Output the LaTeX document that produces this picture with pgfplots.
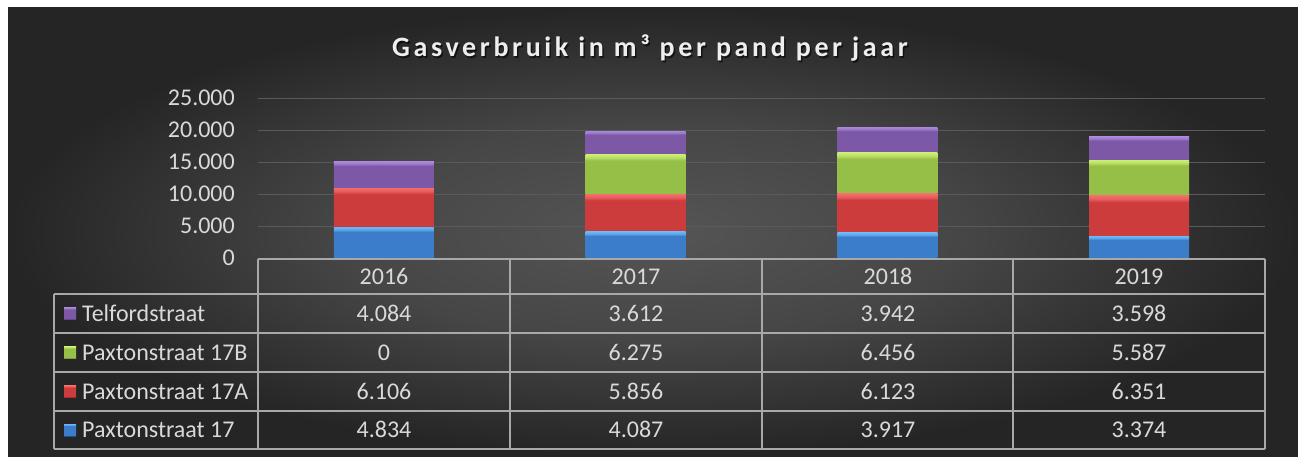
\documentclass[border=0pt]{standalone}
\usepackage{pgfplots}
\pgfplotsset{compat=1.18}
\usepackage{pgfplotstable}
\usepackage{fontspec}
\setmainfont{Carlito}
\newfontfamily\titlefont[LetterSpace=13]{Carlito}

\definecolor{bgA}{HTML}{555555}
\definecolor{bgB}{HTML}{464646}
\definecolor{bgC}{HTML}{252525}
\definecolor{gridc}{HTML}{5A5A5A}
\definecolor{tickc}{HTML}{D9D9D9}
\definecolor{tablec}{HTML}{A8A8A8}
\definecolor{titlec}{HTML}{EEEEEE}

\definecolor{blueD}{HTML}{22508A}\definecolor{blueB}{HTML}{3C7DCA}\definecolor{blueL}{HTML}{6AB6F6}
\definecolor{redD}{HTML}{7A2020}\definecolor{redB}{HTML}{CC3C3C}\definecolor{redL}{HTML}{F46C6C}
\definecolor{greenD}{HTML}{5A7826}\definecolor{greenB}{HTML}{96BF48}\definecolor{greenL}{HTML}{CCEE74}
\definecolor{purpD}{HTML}{4A326E}\definecolor{purpB}{HTML}{7C58A6}\definecolor{purpL}{HTML}{A886D8}

\pgfdeclareverticalshading{barblue}{100bp}{color(0bp)=(blueD); color(25bp)=(blueD); color(26.5bp)=(blueB); color(67bp)=(blueB); color(71bp)=(blueL!70!blueB); color(75bp)=(blueL); color(100bp)=(blueL)}
\pgfdeclareverticalshading{barred}{100bp}{color(0bp)=(redD); color(25bp)=(redD); color(26.5bp)=(redB); color(67bp)=(redB); color(71bp)=(redL!70!redB); color(75bp)=(redL); color(100bp)=(redL)}
\pgfdeclareverticalshading{bargreen}{100bp}{color(0bp)=(greenD); color(25bp)=(greenD); color(26.5bp)=(greenB); color(67bp)=(greenB); color(71bp)=(greenL!70!greenB); color(75bp)=(greenL); color(100bp)=(greenL)}
\pgfdeclareverticalshading{barpurp}{100bp}{color(0bp)=(purpD); color(25bp)=(purpD); color(26.5bp)=(purpB); color(67bp)=(purpB); color(71bp)=(purpL!70!purpB); color(75bp)=(purpL); color(100bp)=(purpL)}
\pgfdeclareradialshading{bgshade}{\pgfpoint{0bp}{0bp}}{color(0bp)=(bgA); color(12bp)=(bgB); color(25bp)=(bgC); color(50bp)=(bgC)}

\pgfplotstableread{
x p17 p17a p17b telf
0 4834 6106 0 4084
1 4087 5856 6275 3612
2 3917 6123 6456 3942
3 3374 6351 5587 3598
}\gasdata

\pgfplotsset{
  bevelbar/.style={draw=none, fill=none, point meta=explicit symbolic,
    nodes near coords={},
    every node near coord/.append style={anchor=center, inner sep=0pt, outer sep=0pt,
      minimum width=100pt, minimum height={\pgfplotspointmeta*0.0064pt},
      shade, shading=#1}},
}

\begin{document}
\begin{tikzpicture}[x=1pt,y=1pt]
\fill[white] (0,0) rectangle (1298,456);
\shade[shading=bgshade] (8,0) rectangle (1298,448);

\node[text=black, opacity=0.6, font=\titlefont\bfseries\fontsize{28}{32}\selectfont] at (651.5,406.5) {Gasverbruik in m³ per pand per jaar};
\node[text=titlec, font=\titlefont\bfseries\fontsize{28}{32}\selectfont] at (650,408) {Gasverbruik in m³ per pand per jaar};

\begin{axis}[
  at={(258pt,198pt)}, anchor=south west,
  width=1007pt, height=160pt, scale only axis,
  xmin=-0.5, xmax=3.5, ymin=0, ymax=25000,
  ybar stacked, bar width=100pt,
  axis line style={draw=none},
  xtick=\empty,
  ytick={0,5000,10000,15000,20000,25000},
  yticklabels={0,5.000,10.000,15.000,20.000,25.000},
  scaled y ticks=false,
  major tick length=0pt,
  ymajorgrids, grid style={draw=gridc, line width=1pt},
  yticklabel style={font=\fontsize{24}{28}\selectfont, text=tickc, inner sep=0pt, xshift=-23pt},
  /pgf/number format/assume math mode=true,
]
\addplot[bevelbar=barblue] table[x=x,y=p17,meta=p17]{\gasdata};
\addplot[bevelbar=barred] table[x=x,y=p17a,meta=p17a]{\gasdata};
\addplot[bevelbar=bargreen] table[x=x,y=p17b,meta=p17b]{\gasdata};
\addplot[bevelbar=barpurp] table[x=x,y=telf,meta=telf]{\gasdata};
\end{axis}

% data table
\begin{scope}[tablec, line width=1.5pt]
\draw (258,197)--(1265,197);
\foreach \yy in {162,123,84,45,7} {\draw (54,\yy)--(1265,\yy);}
\draw (54,162)--(54,7);
\foreach \xx in {258,510,762,1013} {\draw (\xx,197)--(\xx,7);}
\draw (1265,197)--(1265,7);
\end{scope}

\begin{scope}[every node/.style={text=tickc, font=\fontsize{24}{28}\selectfont, inner sep=0pt, anchor=base}]
\node at (384,172) {2016};
\node at (636,172) {2017};
\node at (888,172) {2018};
\node at (1139,172) {2019};

\node at (384,134.8) {4.084};
\node at (636,134.8) {3.612};
\node at (888,134.8) {3.942};
\node at (1139,134.8) {3.598};

\node at (384,95.8) {0};
\node at (636,95.8) {6.275};
\node at (888,95.8) {6.456};
\node at (1139,95.8) {5.587};

\node at (384,56.8) {6.106};
\node at (636,56.8) {5.856};
\node at (888,56.8) {6.123};
\node at (1139,56.8) {6.351};

\node at (384,18.3) {4.834};
\node at (636,18.3) {4.087};
\node at (888,18.3) {3.917};
\node at (1139,18.3) {3.374};

\node[anchor=base west] at (82,134.8) {Telfordstraat};
\node[anchor=base west] at (82,95.8) {Paxtonstraat 17B};
\node[anchor=base west] at (82,56.8) {Paxtonstraat 17A};
\node[anchor=base west] at (82,18.3) {Paxtonstraat 17};
\end{scope}

\shade[shading=barpurp] (64,136.5) rectangle (76,148.5);
\shade[shading=bargreen] (64,97.5) rectangle (76,109.5);
\shade[shading=barred] (64,58.5) rectangle (76,70.5);
\shade[shading=barblue] (64,20) rectangle (76,32);
\end{tikzpicture}
\end{document}
